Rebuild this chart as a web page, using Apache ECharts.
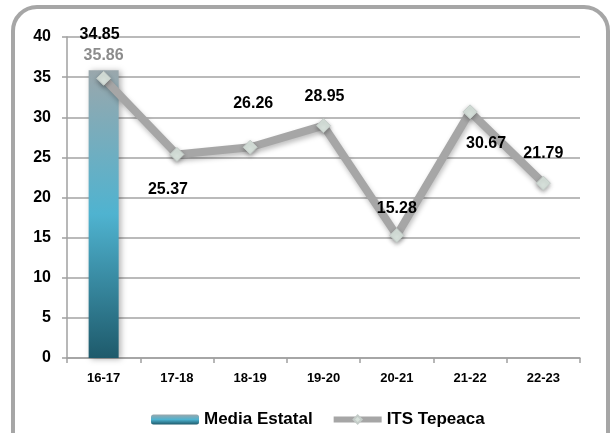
<!DOCTYPE html>
<html>
<head>
<meta charset="utf-8">
<script src="https://cdn.jsdelivr.net/npm/echarts@6/dist/echarts.min.js"></script>
<style>
html,body{margin:0;padding:0;background:#fff;}
#c{width:613px;height:433px;}
</style>
</head>
<body>
<div id="c"></div>
<script>
var categories = ['16-17','17-18','18-19','19-20','20-21','21-22','22-23'];
var mediaEstatal = [35.86, null, null, null, null, null, null];
var itsTepeaca = [34.85, 25.37, 26.26, 28.95, 15.28, 30.67, 21.79];
var yTicks = [0, 5, 10, 15, 20, 25, 30, 35, 40];

// label placement (style only)
var lineLabelOffsets = [[-4,-44],[-9,35],[3,-44],[1,-29],[0,-27],[16,32],[0,-30]];

var FONT = 'Liberation Sans';
var chart = echarts.init(document.getElementById('c'));

var lineData = itsTepeaca.map(function(v, i){
  return { value: v, label: { offset: lineLabelOffsets[i] } };
});
var barData = mediaEstatal.map(function(v){ return v === null ? '-' : v; });

chart.setOption({
  animation: false,
  backgroundColor: '#fff',
  textStyle: { fontFamily: FONT },
  graphic: [{
    type: 'rect',
    shape: { x: 13, y: 7, width: 595, height: 470, r: 24 },
    style: { fill: 'none', stroke: '#a6a6a6', lineWidth: 4 },
    z: -10
  }],
  grid: { left: 67, right: 33, top: 37, bottom: 75 },
  legend: {
    left: 146, top: 406,
    itemWidth: 48, itemHeight: 10, itemGap: 18,
    textStyle: { fontFamily: FONT, fontSize: 17, fontWeight: 'bold', color: '#000' },
    data: [
      { name: 'Media Estatal' },
      { name: 'ITS Tepeaca', lineStyle: { width: 6, color: '#a6a6a6' } }
    ]
  },
  xAxis: {
    type: 'category',
    data: categories,
    boundaryGap: true,
    axisLine: { lineStyle: { color: '#a0a0a0', width: 1.5 } },
    axisTick: { show: true, length: 5, alignWithLabel: false, lineStyle: { color: '#a0a0a0', width: 1.5 } },
    axisLabel: { margin: 14, color: '#000', fontFamily: FONT, fontSize: 13, fontWeight: 'bold' }
  },
  yAxis: {
    type: 'value',
    min: yTicks[0], max: yTicks[yTicks.length-1], interval: yTicks[1]-yTicks[0],
    axisLine: { show: true, lineStyle: { color: '#a0a0a0', width: 1.5 } },
    axisTick: { show: true, length: 5, lineStyle: { color: '#a0a0a0', width: 1.5 } },
    splitLine: { lineStyle: { color: '#a3a3a3', width: 1.5 } },
    axisLabel: { margin: 16, color: '#000', fontFamily: FONT, fontSize: 16, fontWeight: 'bold' }
  },
  series: [{
    name: 'Media Estatal',
    type: 'bar',
    data: barData,
    barWidth: 30,
    itemStyle: {
      color: new echarts.graphic.LinearGradient(0, 0, 0, 1, [
        { offset: 0, color: '#9aa7ac' },
        { offset: 0.5, color: '#4fb3d0' },
        { offset: 1, color: '#1e5a6b' }
      ]),
      shadowColor: 'rgba(0,0,0,0.3)', shadowBlur: 6, shadowOffsetX: 2, shadowOffsetY: 1
    },
    label: {
      show: true, position: 'top', distance: 7,
      color: '#8c8c8c', fontFamily: FONT, fontSize: 16, fontWeight: 'bold',
      formatter: function(p){ return p.value.toFixed(2); }
    }
  }, {
    name: 'ITS Tepeaca',
    type: 'line',
    data: lineData,
    symbol: 'diamond',
    symbolSize: 14,
    lineStyle: { color: '#a6a6a6', width: 8, shadowColor: 'rgba(0,0,0,0.25)', shadowBlur: 5, shadowOffsetX: 1, shadowOffsetY: 3 },
    itemStyle: { color: '#d8e2dc', borderColor: '#c4ccc8', borderWidth: 1, shadowColor: 'rgba(0,0,0,0.3)', shadowBlur: 4, shadowOffsetY: 2 },
    label: {
      show: true, position: 'inside',
      color: '#000', fontFamily: FONT, fontSize: 16, fontWeight: 'bold',
      formatter: function(p){ return p.value.toFixed(2); }
    },
    z: 5
  }]
});
</script>
</body>
</html>
